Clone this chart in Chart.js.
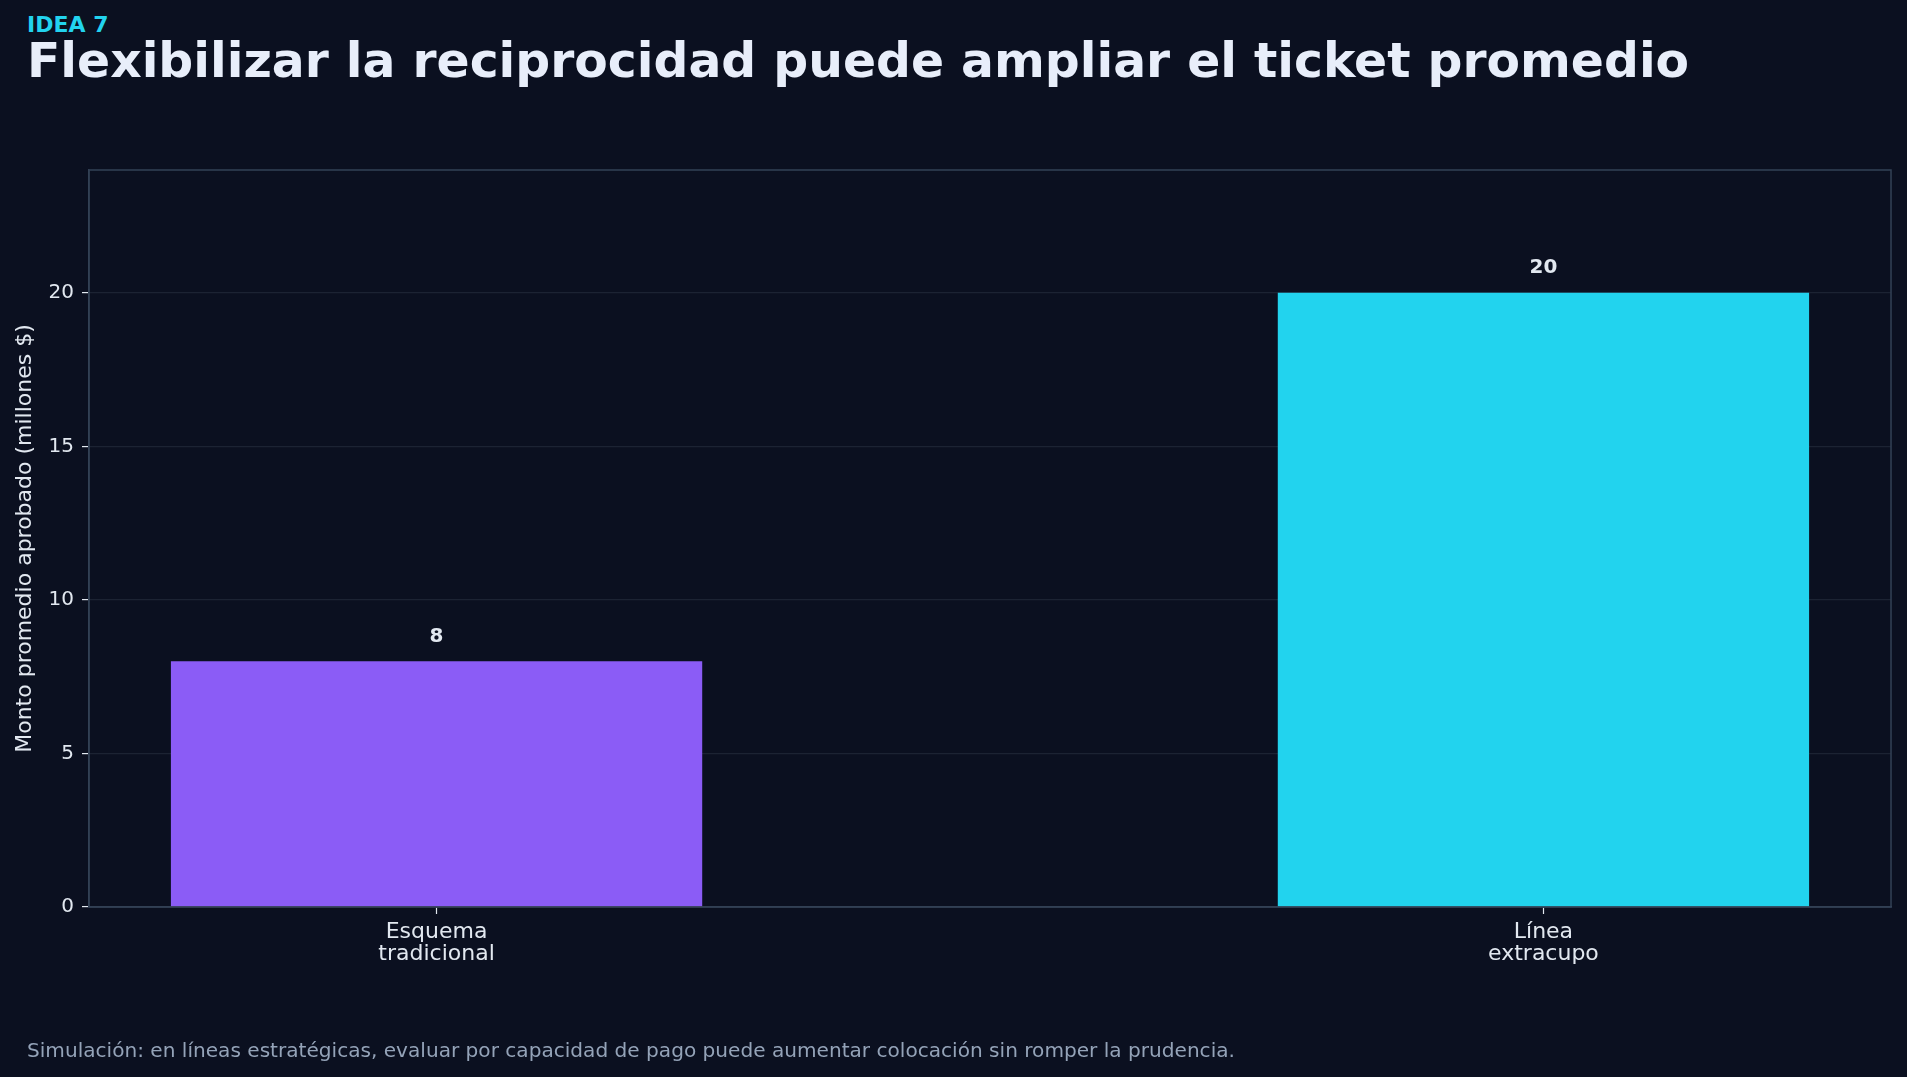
<!DOCTYPE html>
<html lang="es">
<head>
<meta charset="utf-8">
<title>Idea 7</title>
<script src="https://cdn.jsdelivr.net/npm/chart.js@4.4.1/dist/chart.umd.min.js"></script>
<style>
    html, body { margin: 0; padding: 0; background: #0b1020; }
    body { width: 1907px; height: 1077px; position: relative; overflow: hidden; font-family: 'DejaVu Sans', sans-serif; }
    .kicker { position: absolute; left: 27px; top: 12px; font-size: 22px; font-weight: bold; color: #22d3ee; }
    .titulo { position: absolute; left: 27px; top: 32px; font-size: 48.8px; font-weight: bold; color: #e8eefa; white-space: nowrap; }
    .nota { position: absolute; left: 27px; top: 1038px; font-size: 20.1px; color: #94a3b8; white-space: nowrap; }
    #wrap { position: absolute; left: 0; top: 0; width: 1907px; height: 1077px; }
</style>
</head>
<body>
<div class="kicker">IDEA 7</div>
<div class="titulo">Flexibilizar la reciprocidad puede ampliar el ticket promedio</div>
<div id="wrap"><canvas id="grafico"></canvas></div>
<div class="nota">Simulación: en líneas estratégicas, evaluar por capacidad de pago puede aumentar colocación sin romper la prudencia.</div>

<script>
// datos del gráfico
const categorias = [['Esquema', 'tradicional'], ['Línea', 'extracupo']];
const posiciones = [0, 1];
const montos = [8, 20];
const colores = ['#8b5cf6', '#22d3ee'];
const ticksY = [0, 5, 10, 15, 20];

const textoClaro = '#e2e8f0';
const lineaEje = '#334155';
const lineaGrid = '#1c2333';

// etiquetas encima de cada barra
const etiquetasBarras = {
    id: 'etiquetasBarras',
    afterDatasetsDraw(chart) {
        const ctx = chart.ctx;
        const meta = chart.getDatasetMeta(0);
        ctx.save();
        ctx.font = 'bold 20px "DejaVu Sans"';
        ctx.fillStyle = textoClaro;
        ctx.textAlign = 'center';
        ctx.textBaseline = 'middle';
        meta.data.forEach((bar, i) => {
            ctx.fillText(String(montos[i]), bar.x, bar.y - 25);
        });
        ctx.restore();
    }
};

// marco completo del area de dibujo
const marco = {
    id: 'marco',
    afterDatasetsDraw(chart) {
        const a = chart.chartArea;
        const ctx = chart.ctx;
        ctx.save();
        ctx.strokeStyle = lineaEje;
        ctx.lineWidth = 1.5;
        ctx.strokeRect(a.left, a.top, a.right - a.left, a.bottom - a.top);
        ctx.restore();
    }
};

function initChart() {
    const ctx = document.getElementById('grafico');

    new Chart(ctx, {
        type: 'bar',
        data: {
            datasets: [{
                data: posiciones.map((x, i) => ({ x: x, y: montos[i] })),
                backgroundColor: colores,
                borderWidth: 0,
                barPercentage: 0.48,
                categoryPercentage: 1
            }]
        },
        options: {
            responsive: true,
            maintainAspectRatio: false,
            animation: false,
            layout: { padding: { left: 0, top: 170, right: 16, bottom: 70 } },
            plugins: {
                legend: { display: false },
                tooltip: { enabled: false }
            },
            scales: {
                x: {
                    type: 'linear',
                    min: -0.314,
                    max: 1.314,
                    offset: false,
                    afterBuildTicks: scale => { scale.ticks = posiciones.map(v => ({ value: v })); },
                    afterFit: scale => { scale.height = 100; },
                    grid: { offset: false, drawOnChartArea: false, tickLength: 7, tickColor: textoClaro, tickWidth: 1.2 },
                    border: { color: lineaEje, width: 1.5 },
                    ticks: {
                        color: textoClaro,
                        font: { family: 'DejaVu Sans', size: 22, lineHeight: 1.0 },
                        padding: 7,
                        maxRotation: 0,
                        autoSkip: false,
                        callback: value => categorias[posiciones.indexOf(value)] || ''
                    }
                },
                y: {
                    min: 0,
                    max: 24,
                    afterBuildTicks: scale => { scale.ticks = ticksY.map(v => ({ value: v })); },
                    afterFit: scale => { scale.width = 89; },
                    grid: { color: lineaGrid, lineWidth: 1.2, tickLength: 7, tickColor: textoClaro, tickWidth: 1.2 },
                    border: { color: lineaEje, width: 1.5 },
                    ticks: {
                        color: textoClaro,
                        font: { family: 'DejaVu Sans', size: 20 },
                        padding: 8
                    },
                    title: {
                        display: true,
                        text: 'Monto promedio aprobado (millones $)',
                        color: textoClaro,
                        font: { family: 'DejaVu Sans', size: 22 },
                        padding: { top: 12, bottom: 0 }
                    }
                }
            }
        },
        plugins: [etiquetasBarras, marco]
    });
}

initChart();
</script>
</body>
</html>
